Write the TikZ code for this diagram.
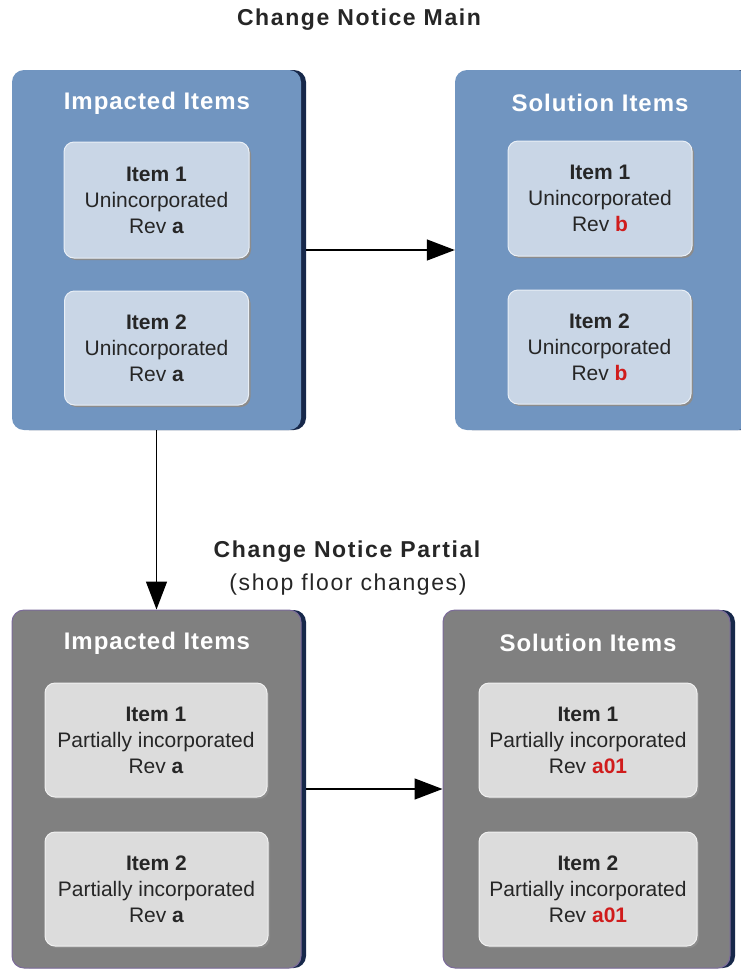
\documentclass[tikz,border=0pt]{standalone}
\usepackage{fontspec}
\setmainfont{Liberation Sans}
\newfontfamily\spacedfont[LetterSpace=7]{Liberation Sans}
\newfontfamily\hdrfont[LetterSpace=4]{Liberation Sans}
\usetikzlibrary{arrows.meta}
\definecolor{cblue}{HTML}{7195C0}
\definecolor{cgray}{HTML}{808080}
\definecolor{cdark}{HTML}{17284A}
\definecolor{cpurple}{HTML}{7B6A9A}
\definecolor{iblue}{HTML}{C9D6E6}
\definecolor{iblueb}{HTML}{E9EFF6}
\definecolor{igray}{HTML}{DCDCDC}
\definecolor{igrayb}{HTML}{F0F0F0}
\definecolor{cred}{HTML}{D01C1C}
\definecolor{ishadow}{HTML}{8C8C8C}
\begin{document}
\begin{tikzpicture}[x=1pt,y=-1pt,
  cont/.style={rectangle, rounded corners=12pt, inner sep=0pt},
  contshadow/.style={cont, fill=cdark},
  bluecont/.style={cont, fill=cblue},
  graycont/.style={cont, fill=cgray, draw=cpurple, line width=1pt},
  hdr/.style={text=white, font=\hdrfont\fontsize{24}{28}\selectfont\bfseries},
  itembox/.style={rectangle, rounded corners=10pt, align=center, inner sep=0pt,
     font=\fontsize{21}{26}\selectfont, text=black!85,
     preaction={fill=ishadow, transform canvas={xshift=2pt, yshift=-2pt}}},
  blueitem/.style={itembox, fill=iblue, draw=iblueb, line width=1pt},
  grayitem/.style={itembox, fill=igray, draw=igrayb, line width=1pt},
  ttl/.style={font=\spacedfont\fontsize{23}{27}\selectfont\bfseries, text=black!85},
  arr/.style={-{Triangle[length=28pt,width=21pt]}, line width=1.4pt, black}
]
\useasboundingbox (0,0) rectangle (740,970);

\node[ttl] (title) at (359,20) {Change Notice Main};

% top containers
\node[contshadow, minimum width=289pt, minimum height=360pt] (tlS) at (161.5,250) {};
\node[bluecont, minimum width=289pt, minimum height=360pt] (tl) at (156.5,250) {};
\node[contshadow, minimum width=295pt, minimum height=360pt] (trS) at (607.5,250) {};
\node[bluecont, minimum width=295pt, minimum height=360pt] (tr) at (602.5,250) {};

\node[hdr] (tlh) at (157,103) {Impacted Items};
\node[hdr] (trh) at (600,103) {Solution Items};

\node[blueitem, minimum width=185pt, minimum height=116pt] (tl1) at (156.5,200)
  {\textbf{Item 1}\\Unincorporated\\Rev \textbf{a}};
\node[blueitem, minimum width=184pt, minimum height=114pt] (tl2) at (156.5,348)
  {\textbf{Item 2}\\Unincorporated\\Rev \textbf{a}};
\node[blueitem, minimum width=184pt, minimum height=115pt] (tr1) at (600,198.5)
  {\textbf{Item 1}\\Unincorporated\\Rev \textcolor{cred}{\textbf{b}}};
\node[blueitem, minimum width=183pt, minimum height=114pt] (tr2) at (599.5,347)
  {\textbf{Item 2}\\Unincorporated\\Rev \textcolor{cred}{\textbf{b}}};

% middle labels
\node[ttl] (partial) at (347,552) {Change Notice Partial};
\node[font=\spacedfont\fontsize{23}{27}\selectfont, text=black!85] (shop) at (348,585) {(shop floor changes)};

% bottom containers
\node[contshadow, minimum width=289pt, minimum height=358pt] (blS) at (161.5,789) {};
\node[graycont, minimum width=289pt, minimum height=358pt] (bl) at (156.5,789) {};
\node[contshadow, minimum width=287pt, minimum height=358pt] (brS) at (591.5,789) {};
\node[graycont, minimum width=287pt, minimum height=358pt] (br) at (586.5,789) {};

\node[hdr] (blh) at (157,643) {Impacted Items};
\node[hdr] (brh) at (588,643) {Solution Items};

\node[grayitem, minimum width=222pt, minimum height=114pt] (bl1) at (156,740)
  {\textbf{Item 1}\\Partially incorporated\\Rev \textbf{a}};
\node[grayitem, minimum width=223pt, minimum height=114pt] (bl2) at (156.5,889)
  {\textbf{Item 2}\\Partially incorporated\\Rev \textbf{a}};
\node[grayitem, minimum width=218pt, minimum height=114pt] (br1) at (588,740)
  {\textbf{Item 1}\\Partially incorporated\\Rev \textcolor{cred}{\textbf{a01}}};
\node[grayitem, minimum width=218pt, minimum height=114pt] (br2) at (588,889)
  {\textbf{Item 2}\\Partially incorporated\\Rev \textcolor{cred}{\textbf{a01}}};

% connectors
\draw[arr] (tlS.east) -- (tr.west);
\draw[arr] (tl.south) -- (bl.north);
\draw[arr] (blS.east) -- (br.west);
\end{tikzpicture}
\end{document}
